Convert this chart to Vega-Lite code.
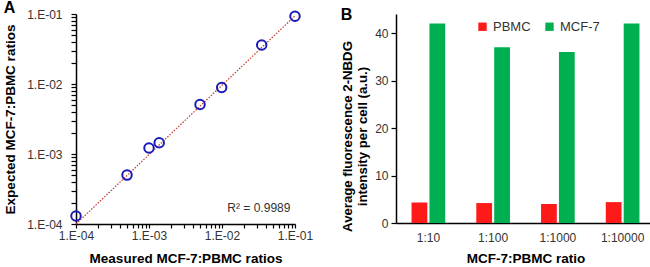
{
  "$schema": "https://vega.github.io/schema/vega-lite/v6.json",
  "padding": {"left": 3, "top": 0, "right": 3, "bottom": 0},
  "spacing": 27,
  "resolve": {"legend": {"color": "independent"}},
  "config": {
    "font": "Liberation Sans",
    "view": {"stroke": null},
    "axis": {
      "grid": false,
      "domainColor": "black",
      "domainWidth": 1.5,
      "tickColor": "black",
      "tickWidth": 1.2,
      "labelColor": "#333333",
      "labelFontSize": 12,
      "titleFontSize": 13.5,
      "titleFontWeight": "bold",
      "titleColor": "black"
    },
    "title": {"fontSize": 16, "fontWeight": "bold", "color": "black", "anchor": "start", "frame": "bounds", "offset": -9}
  },
  "hconcat": [
    {
      "title": "A",
      "width": 219,
      "height": 210,
      "layer": [
        {
          "data": {"values": [{"mx": 0.0001, "ey": 0.0001}, {"mx": 0.1, "ey": 0.094}]},
          "mark": {"type": "line", "color": "#c0392b", "strokeDash": [1.5, 1.5], "strokeWidth": 1.2},
          "encoding": {
            "x": {"field": "mx", "type": "quantitative"},
            "y": {"field": "ey", "type": "quantitative"}
          }
        },
        {
          "data": {"values": [
            {"mx": 0.0001, "ey": 0.00013},
            {"mx": 0.0005, "ey": 0.0005},
            {"mx": 0.001, "ey": 0.00122},
            {"mx": 0.00138, "ey": 0.00145},
            {"mx": 0.005, "ey": 0.0051},
            {"mx": 0.0099, "ey": 0.0089},
            {"mx": 0.035, "ey": 0.036},
            {"mx": 0.1, "ey": 0.093}
          ]},
          "mark": {"type": "point", "shape": "circle", "filled": false, "color": "#1a1ab8", "strokeWidth": 2, "size": 90, "opacity": 1},
          "encoding": {
            "x": {"field": "mx", "type": "quantitative",
              "scale": {"type": "log", "domain": [0.0001, 0.1], "nice": false},
              "axis": {
                "title": "Measured MCF-7:PBMC ratios",
                "values": [0.0001,0.0002,0.0003,0.0004,0.0005,0.0006,0.0007,0.0008,0.0009,0.001,0.002,0.003,0.004,0.005,0.006,0.007,0.008,0.009,0.01,0.02,0.03,0.04,0.05,0.06,0.07,0.08,0.09,0.1],
                "labelExpr": "abs(log(datum.value)/LN10 - round(log(datum.value)/LN10)) < 0.01 ? '1.E-0' + (-round(log(datum.value)/LN10)) : ''",
                "labelOverlap": false, "labelFlush": false,
                "tickSize": 4, "labelPadding": 2, "titlePadding": 10
              }
            },
            "y": {"field": "ey", "type": "quantitative",
              "scale": {"type": "log", "domain": [0.0001, 0.1], "nice": false},
              "axis": {
                "title": "Expected MCF-7:PBMC ratios",
                "values": [0.0001,0.0002,0.0003,0.0004,0.0005,0.0006,0.0007,0.0008,0.0009,0.001,0.002,0.003,0.004,0.005,0.006,0.007,0.008,0.009,0.01,0.02,0.03,0.04,0.05,0.06,0.07,0.08,0.09,0.1],
                "labelExpr": "abs(log(datum.value)/LN10 - round(log(datum.value)/LN10)) < 0.01 ? '1.E-0' + (-round(log(datum.value)/LN10)) : ''",
                "labelOverlap": false, "labelFlush": false,
                "tickSize": 5, "labelPadding": 9, "titlePadding": 9
              }
            }
          }
        },
        {
          "data": {"values": [{"label": "R² = 0.9989"}]},
          "mark": {"type": "text", "fontSize": 12, "color": "#333333", "align": "center", "baseline": "middle"},
          "encoding": {
            "text": {"field": "label"},
            "x": {"datum": 0.032},
            "y": {"datum": 0.000168}
          }
        }
      ]
    },
    {
      "title": "B",
      "width": 259,
      "height": 209,
      "data": {"values": [
        {"ratio": "1:10", "cell": "PBMC", "value": 4.3},
        {"ratio": "1:10", "cell": "MCF-7", "value": 42},
        {"ratio": "1:100", "cell": "PBMC", "value": 4.2},
        {"ratio": "1:100", "cell": "MCF-7", "value": 37},
        {"ratio": "1:1000", "cell": "PBMC", "value": 4.0},
        {"ratio": "1:1000", "cell": "MCF-7", "value": 36},
        {"ratio": "1:10000", "cell": "PBMC", "value": 4.4},
        {"ratio": "1:10000", "cell": "MCF-7", "value": 42}
      ]},
      "mark": {"type": "bar"},
      "encoding": {
        "x": {"field": "ratio", "type": "nominal", "sort": ["1:10", "1:100", "1:1000", "1:10000"],
          "scale": {"paddingInner": 0.48, "paddingOuter": 0.24},
          "axis": {"labelAngle": 0, "ticks": false, "title": "MCF-7:PBMC ratio", "labelPadding": 9, "titlePadding": 8}
        },
        "xOffset": {"field": "cell", "sort": ["PBMC", "MCF-7"], "scale": {"paddingInner": 0.12}},
        "y": {"field": "value", "type": "quantitative",
          "scale": {"domain": [0, 44], "nice": false},
          "axis": {"values": [0, 10, 20, 30, 40], "title": ["Average fluorescence 2-NBDG", "intensity per cell (a.u.)"], "titleFontSize": 13.2, "titleLineHeight": 15, "titleY": 122, "tickSize": 5, "labelPadding": 3, "titlePadding": 5}
        },
        "color": {"field": "cell", "type": "nominal", "sort": ["PBMC", "MCF-7"],
          "scale": {"domain": ["PBMC", "MCF-7"], "range": ["#ff1a1a", "#00b050"]},
          "legend": {"orient": "none", "legendX": 80, "legendY": 6, "direction": "horizontal", "title": null, "symbolType": "square", "symbolSize": 70, "labelFontSize": 13, "labelColor": "#333333", "columnPadding": 12}
        }
      }
    }
  ]
}
